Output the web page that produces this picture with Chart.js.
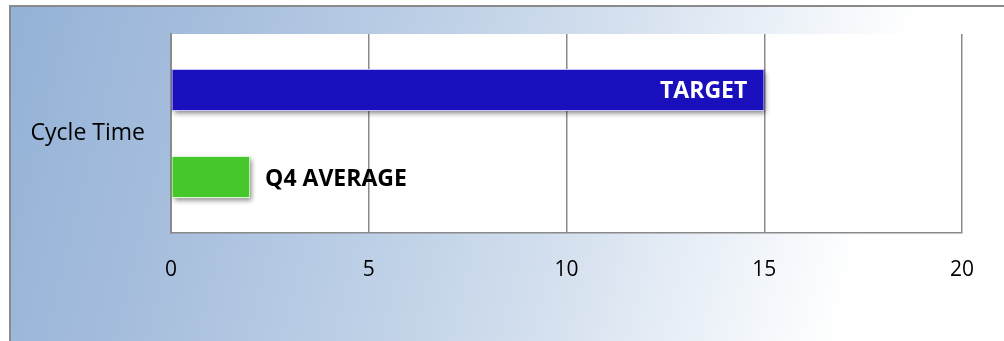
<!DOCTYPE html>
<html>
<head>
<meta charset="utf-8">
<script src="https://cdn.jsdelivr.net/npm/chart.js@4"></script>
<style>
  html, body { margin: 0; padding: 0; background: #fff; }
  #wrap { position: relative; width: 1004px; height: 341px; overflow: hidden; }
  #bg {
    position: absolute; left: 9px; top: 5px; width: 1010px; height: 350px;
    border-left: 2px solid #8a8a8a; border-top: 2px solid #8a8a8a;
    background: linear-gradient(104deg, #93b2d7 0%, #a8bfdd 20%, #bccfe6 38%, #d3dfee 55%, #eef3f9 72%, #ffffff 83%);
  }
  canvas { position: absolute; left: 0; top: 0; }
</style>
</head>
<body>
<div id="wrap">
  <div id="bg"></div>
  <canvas id="c" width="1004" height="341"></canvas>
</div>
<script>
// chart data
const categories = ["Cycle Time"];
const seriesNames = ["TARGET", "Q4 AVERAGE"];
const targetValues = [15];
const q4Values = [2];
const xTicks = [0, 5, 10, 15, 20];

const FONT = "'Open Sans', 'DejaVu Sans', sans-serif";

// white plot area + bar shadows
const plotBg = {
  id: "plotBg",
  beforeDraw(chart) {
    const a = chart.chartArea, ctx = chart.ctx;
    ctx.save();
    ctx.fillStyle = "#ffffff";
    ctx.fillRect(a.left, a.top, a.right - a.left, a.bottom - a.top);
    ctx.restore();
  },
  beforeDatasetsDraw(chart) {
    // bar border clips the shadow, so paint the shadow first under each bar
    const ctx = chart.ctx;
    ctx.save();
    ctx.shadowColor = "rgba(0,0,0,0.45)";
    ctx.shadowBlur = 5;
    ctx.shadowOffsetX = 2;
    ctx.shadowOffsetY = 3;
    chart.data.datasets.forEach((ds, i) => {
      chart.getDatasetMeta(i).data.forEach(bar => {
        const p = bar.getProps(["x", "y", "base", "height"]);
        ctx.fillStyle = ds.backgroundColor;
        ctx.fillRect(p.base, p.y - p.height / 2, p.x - p.base, p.height);
      });
    });
    ctx.restore();
  }
};

// series name labels at the bar ends
const barNames = {
  id: "barNames",
  afterDatasetsDraw(chart) {
    const ctx = chart.ctx;
    ctx.save();
    ctx.font = "bold 23px " + FONT;
    ctx.textBaseline = "middle";
    chart.data.datasets.forEach((ds, i) => {
      const bar = chart.getDatasetMeta(i).data[0];
      if (!bar) return;
      if (i === 0) {
        ctx.fillStyle = "#ffffff";
        ctx.textAlign = "right";
        ctx.fillText(ds.label, bar.x - 17, bar.y + 1);
      } else {
        ctx.fillStyle = "#000000";
        ctx.textAlign = "left";
        ctx.fillText(ds.label, bar.x + 15, bar.y + 2);
      }
    });
    ctx.restore();
  }
};

new Chart(document.getElementById("c"), {
  type: "bar",
  data: {
    labels: categories,
    datasets: [
      { label: seriesNames[0], data: targetValues, backgroundColor: "#1a0fbd", borderColor: "rgba(220,220,255,0.9)", borderWidth: 1, borderSkipped: false },
      { label: seriesNames[1], data: q4Values, backgroundColor: "#46c82d", borderColor: "rgba(235,255,235,0.9)", borderWidth: 1, borderSkipped: false }
    ]
  },
  options: {
    indexAxis: "y",
    responsive: false,
    animation: false,
    devicePixelRatio: 1,
    categoryPercentage: 0.874,
    barPercentage: 0.483,
    layout: { padding: { left: 0, right: 42, top: 34, bottom: 0 } },
    plugins: { legend: { display: false }, tooltip: { enabled: false } },
    scales: {
      x: {
        min: xTicks[0],
        max: xTicks[xTicks.length - 1],
        afterBuildTicks(scale) { scale.ticks = xTicks.map(v => ({ value: v })); },
        afterFit(scale) { scale.height = 108; },
        grid: { color: "#8a8a8a", lineWidth: 1.5, drawTicks: false },
        border: { color: "#8a8a8a", width: 1.5 },
        ticks: { color: "#000", padding: 24, font: { family: FONT, size: 21 } }
      },
      y: {
        afterFit(scale) { scale.width = 171; scale.paddingTop = 0; scale.paddingBottom = 0; },
        grid: { display: false, drawTicks: false },
        border: { color: "#8a8a8a", width: 2 },
        ticks: { color: "#000", padding: 26, font: { family: FONT, size: 23 } }
      }
    }
  },
  plugins: [plotBg, barNames]
});
</script>
</body>
</html>
